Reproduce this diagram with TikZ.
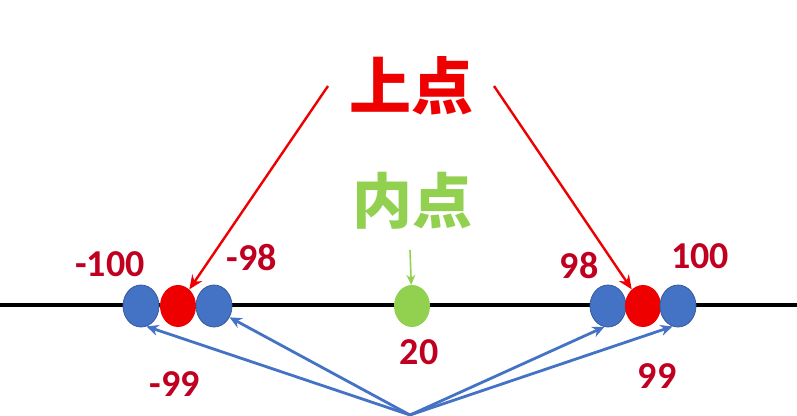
\documentclass[tikz,border=0pt]{standalone}
\usepackage{fontspec}
\setmainfont{Carlito}
\newfontfamily\cjk{Noto Sans CJK SC}
\usetikzlibrary{shapes.geometric,arrows.meta}
\definecolor{ptblue}{HTML}{4472C4}
\definecolor{ptred}{HTML}{EE0000}
\definecolor{ptgreen}{HTML}{92D050}
\definecolor{numred}{HTML}{C00020}
\begin{document}
\begin{tikzpicture}[x=1pt, y=-1pt,
    dot/.style={ellipse, minimum width=36pt, minimum height=42pt, inner sep=0pt},
    bluedot/.style={dot, fill=ptblue, draw=ptblue!80!black, line width=0.8pt},
    reddot/.style={dot, fill=ptred},
    num/.style={text=numred, font=\fontsize{38}{40}\selectfont\bfseries},
    bluearrow/.style={draw=ptblue, line width=2.8pt, -{Stealth[length=12pt,width=11pt]}},
    redarrow/.style={draw=ptred, line width=2.4pt, -{Stealth[length=14pt,width=12pt]}}]
    \useasboundingbox (0,0) rectangle (797,415);
    % number line
    \draw[line width=3.5pt] (0,305)--(797,305);
    % points on the line
    \node[bluedot] (b1) at (141,306) {};
    \node[reddot]  (r1) at (178,306) {};
    \node[bluedot] (b2) at (214,306) {};
    \node[dot, fill=ptgreen] (g) at (412,306) {};
    \node[bluedot] (b3) at (608,306) {};
    \node[reddot]  (r2) at (643,306) {};
    \node[bluedot] (b4) at (678,306) {};
    % values
    \node[num] (n1) at (110,264) {-100};
    \node[num] (n2) at (252,258) {-98};
    \node[num] (n3) at (579,266) {98};
    \node[num] (n4) at (700,256) {100};
    \node[num] (n5) at (175,384) {-99};
    \node[num] (n6) at (657,376) {99};
    \node[num] (n7) at (419,352) {20};
    % titles
    \node[text=ptred, font=\fontsize{62}{64}\selectfont\cjk\bfseries] (top) at (411,86) {上点};
    \node[text=ptgreen, font=\fontsize{60}{62}\selectfont\cjk\bfseries] (in) at (412,201) {内点};
    \coordinate (s1) at (328,86);
    \coordinate (s2) at (494,86);
    \coordinate (gs) at (410,250);
    \coordinate (bot) at (410,415);
    \draw[redarrow] (s1) -- (r1);
    \draw[redarrow] (s2) -- (r2);
    \draw[ptgreen, line width=1.6pt, -{Stealth[length=10pt,width=9pt]}] (gs) -- (g);
    % the four blue arrows
    \foreach \b/\a in {b1/-75, b2/-36, b3/-100, b4/-105}{
        \draw[bluearrow] (bot) -- (\b.\a);
    }
\end{tikzpicture}
\end{document}
